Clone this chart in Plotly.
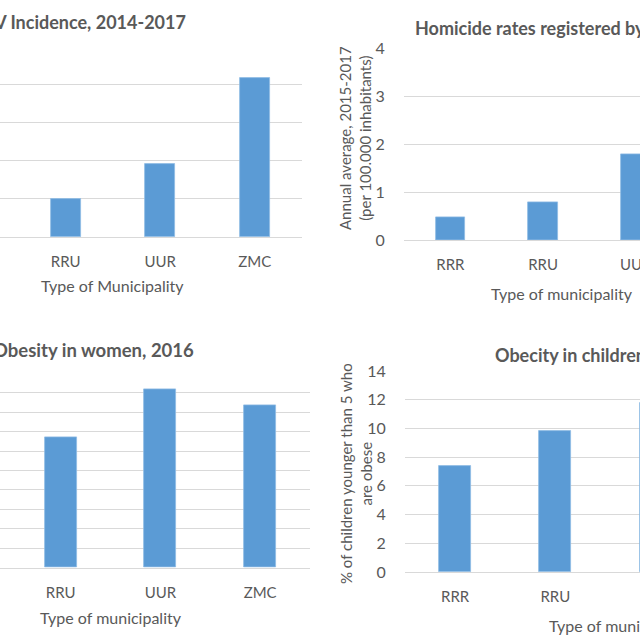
import plotly.graph_objects as go

W = H = 640

# ---- data ----
hiv_cats = ["RRU", "UUR", "ZMC"]
hiv_vals = [1.0, 1.91, 4.15]

hom_cats = ["RRR", "RRU", "UUR"]
hom_vals = [0.48, 0.80, 1.79]

obw_cats = ["RRU", "UUR", "ZMC"]
obw_vals = [33.5, 46.0, 41.8]

obc_cats = ["RRR", "RRU", "UUR"]
obc_vals = [7.4, 9.8, 11.8]

titles = ["HIV Incidence, 2014-2017",
          "Homicide rates registered by type of municipality",
          "Obesity in women, 2016",
          "Obecity in children younger than 5, 2016"]

BLUE = "#5B9BD5"
GRID = "#d9d9d9"
TXT = "#595959"
FONT = "Lato"

def px(v):
    return v / W

def py(v):
    return 1 - v / H

fig = go.Figure()

panels = [
    (hiv_cats, hiv_vals, (0, 302), (46, 237), [-0.695, 2.5], [0, 5], 1, False),
    (hom_cats, hom_vals, (404, 640), (48.3, 240.3), [-0.5, 2.046], [0, 4], 1, True),
    (obw_cats, obw_vals, (0, 310), (373.3, 567.7), [-0.609, 2.5], [0, 50], 5, False),
    (obc_cats, obc_vals, (405, 640), (371, 572), [-0.5, 1.845], [0, 14], 2, True),
]

for i, (cats, vals, xd, yd, xr, yr, dt, showy) in enumerate(panels):
    n = "" if i == 0 else str(i + 1)
    fig.add_trace(go.Bar(x=cats, y=vals, width=0.32,
                         marker=dict(color=BLUE, line=dict(color="#8fbbe4", width=0.8)),
                         xaxis="x" + n, yaxis="y" + n, showlegend=False))
    fig.update_layout(**{
        "xaxis" + n: dict(domain=[px(xd[0]), px(xd[1])], range=xr, anchor="y" + n,
                          type="category", showgrid=False, showline=True, linecolor=GRID,
                          linewidth=1, ticks="outside", ticklen=11,
                          tickcolor="rgba(0,0,0,0)", automargin=False,
                          tickfont=dict(family=FONT, size=15, color=TXT), zeroline=False),
        "yaxis" + n: dict(domain=[py(yd[1]), py(yd[0])], range=yr, anchor="x" + n,
                          dtick=dt, showgrid=True, gridcolor=GRID, gridwidth=1,
                          zeroline=False, showline=False, showticklabels=showy,
                          ticks="outside" if showy else "", ticklen=15,
                          tickcolor="rgba(0,0,0,0)", automargin=False,
                          tickfont=dict(family=FONT, size=16, color=TXT)),
    })

ann = []
def add_text(text, x, y, xanchor="center", size=14, bold=False, angle=0):
    ann.append(dict(text=("<b>%s</b>" % text) if bold else text,
                    x=px(x), y=py(y), xref="paper", yref="paper",
                    xanchor=xanchor, yanchor="middle", showarrow=False,
                    textangle=angle,
                    font=dict(family=FONT, size=size, color=TXT)))

# chart titles
add_text(titles[0], 188, 22, "right", 18, True)
add_text(titles[1], 412.7, 28, "left", 18, True)
add_text(titles[2], 196, 350, "right", 18.5, True)
add_text(titles[3], 492.7, 355, "left", 18, True)

# x-axis titles
add_text("Type of Municipality", 112, 285, "center", 16)
add_text("Type of municipality", 562, 293, "center", 16)
add_text("Type of municipality", 110.5, 617, "center", 16)
add_text("Type of municipality", 546.7, 625, "left", 16)

# y-axis titles
add_text("Annual average, 2015-2017<br>(per 100.000 inhabitants)", 355, 138, "center", 15, False, -90)
add_text("% of children younger than 5 who<br>are obese", 356, 474, "center", 15, False, -90)

fig.update_layout(width=W, height=H, margin=dict(l=0, r=0, t=0, b=0, pad=0),
                  autosize=False,
                  paper_bgcolor="white", plot_bgcolor="white",
                  annotations=ann, bargap=0)

fig.write_html("out.html", config={"displayModeBar": False},
               post_script="document.body.style.margin='0px';")
